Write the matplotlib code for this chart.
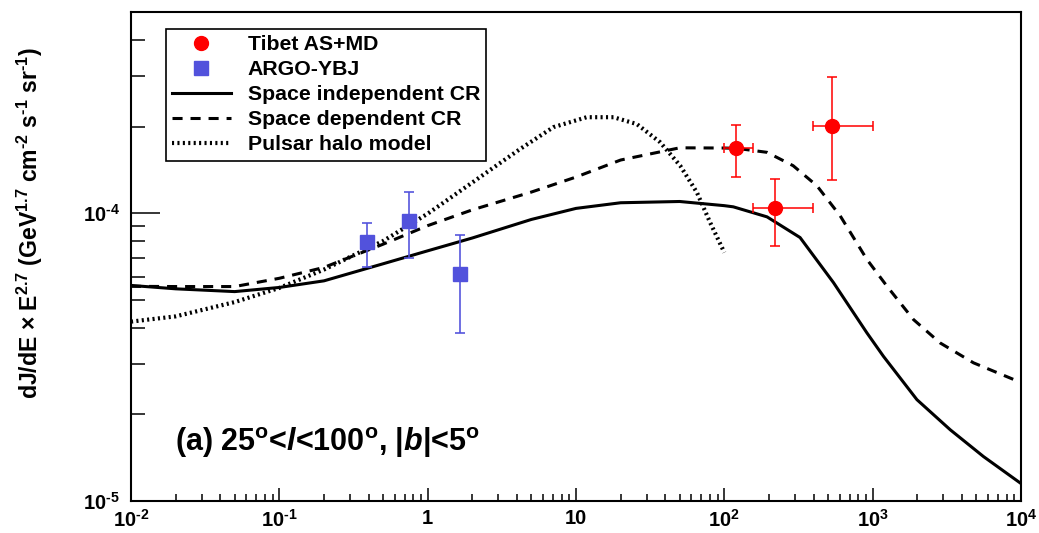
import numpy as np
import matplotlib
matplotlib.use("Agg")
import matplotlib.pyplot as plt
from matplotlib.lines import Line2D
from matplotlib.ticker import FixedLocator, LogLocator, NullFormatter

plt.rcParams['font.family'] = ['Liberation Sans', 'DejaVu Sans']
plt.rcParams['font.weight'] = 'bold'
plt.rcParams['mathtext.fontset'] = 'custom'
plt.rcParams['mathtext.rm'] = 'Liberation Sans:bold'
plt.rcParams['mathtext.bf'] = 'Liberation Sans:bold'
plt.rcParams['mathtext.it'] = 'Liberation Sans:italic:bold'
plt.rcParams['mathtext.default'] = 'rm'

# ---------------- data ----------------
# Space independent CR (solid)
E_si = [0.01, 0.02, 0.05, 0.1, 0.2, 0.5, 1, 2, 5, 10, 20, 50, 100, 115, 194, 324,
        544, 914, 1183, 1987, 3334, 5585, 10000]
F_si = [5.61e-5, 5.46e-5, 5.34e-5, 5.52e-5, 5.82e-5, 6.67e-5, 7.40e-5, 8.20e-5,
        9.51e-5, 1.039e-4, 1.087e-4, 1.098e-4, 1.062e-4, 1.052e-4, 9.71e-5, 8.23e-5,
        5.74e-5, 3.84e-5, 3.18e-5, 2.25e-5, 1.768e-5, 1.427e-5, 1.15e-5]

# Space dependent CR (dashed)
E_sd = [0.01, 0.02, 0.05, 0.1, 0.2, 0.5, 1, 2, 5, 10, 20, 50, 100, 121, 194, 291,
        421, 604, 914, 1247, 1884, 2853, 4786, 10000]
F_sd = [5.57e-5, 5.56e-5, 5.56e-5, 5.94e-5, 6.48e-5, 7.80e-5, 9.05e-5, 1.027e-4,
        1.184e-4, 1.335e-4, 1.530e-4, 1.687e-4, 1.684e-4, 1.680e-4, 1.627e-4, 1.462e-4,
        1.245e-4, 9.79e-5, 6.91e-5, 5.58e-5, 4.27e-5, 3.54e-5, 3.02e-5, 2.58e-5]

# Pulsar halo model (dotted)
E_ph = [0.01, 0.02, 0.05, 0.1, 0.2, 0.5, 1, 2, 2.5, 4.2, 7.04, 11.8, 17.9, 25.7,
        36.9, 50.4, 65.3, 80.2, 100]
F_ph = [4.20e-5, 4.38e-5, 4.91e-5, 5.50e-5, 6.37e-5, 8.00e-5, 9.96e-5, 1.278e-4,
        1.386e-4, 1.671e-4, 1.990e-4, 2.155e-4, 2.155e-4, 2.04e-4, 1.764e-4,
        1.462e-4, 1.181e-4, 9.28e-5, 7.30e-5]

# Tibet AS+MD
E_tibet = [120, 221, 533]
E_tibet_lo = [100, 157, 399]
E_tibet_hi = [157, 399, 1000]
F_tibet = [1.68e-4, 1.04e-4, 2.01e-4]
F_tibet_lo = [1.338e-4, 7.69e-5, 1.306e-4]
F_tibet_hi = [2.02e-4, 1.31e-4, 2.98e-4]

# ARGO-YBJ
E_argo = [0.388, 0.75, 1.65]
F_argo = [7.91e-5, 9.40e-5, 6.14e-5]
F_argo_lo = [6.52e-5, 7.01e-5, 3.84e-5]
F_argo_hi = [9.21e-5, 1.18e-4, 8.43e-5]

xticks = [1e-2, 1e-1, 1, 10, 1e2, 1e3, 1e4]
xticklabels = [r'$10^{\text{-}2}$', r'$10^{\text{-}1}$', '1', '10',
               r'$10^{2}$', r'$10^{3}$', r'$10^{4}$']
yticks = [1e-5, 1e-4]
yticklabels = [r'$10^{\text{-}5}$', r'$10^{\text{-}4}$']

# ---------------- figure ----------------
W, H = 1039, 533
fig = plt.figure(figsize=(W / 100, H / 100), dpi=100)
ax = fig.add_axes([131 / W, (H - 501) / H, (1021 - 131) / W, (501 - 12) / H])
ax.set_xscale('log')
ax.set_yscale('log')
ax.set_xlim(1e-2, 1e4)
ax.set_ylim(1e-5, 5e-4)

lw = 2.2
dash_ls = (0, (3.3, 2.6))
dot_lw = 3.0
dot_ls = (0, (0.5, 0.8))
ax.plot(E_si, F_si, color='black', lw=lw, ls='-', solid_joinstyle='round')
ax.plot(E_sd, F_sd, color='black', lw=lw, ls=dash_ls)
ax.plot(E_ph, F_ph, color='black', lw=dot_lw, ls=dot_ls, dash_capstyle='butt')

red = '#ff0000'
blue = '#5252dc'
F_tibet = np.array(F_tibet)
E_tibet = np.array(E_tibet)
yerr_t = [F_tibet - np.array(F_tibet_lo), np.array(F_tibet_hi) - F_tibet]
xerr_t = [E_tibet - np.array(E_tibet_lo), np.array(E_tibet_hi) - E_tibet]
ax.errorbar(E_tibet, F_tibet, xerr=xerr_t, yerr=yerr_t, fmt='none', ecolor=red,
            elinewidth=1.3, capsize=3.5, capthick=1.3, zorder=4, alpha=0.85)
ax.plot(E_tibet, F_tibet, 'o', color=red, ms=10, mec=red, zorder=5)

F_argo = np.array(F_argo)
yerr_a = [F_argo - np.array(F_argo_lo), np.array(F_argo_hi) - F_argo]
ax.errorbar(E_argo, F_argo, yerr=yerr_a, fmt='none', ecolor=blue,
            elinewidth=1.3, capsize=3.5, capthick=1.3, zorder=4, alpha=0.9)
ax.plot(E_argo, F_argo, 's', color=blue, ms=9.5, mec=blue, zorder=5)

# ticks
ax.xaxis.set_major_locator(FixedLocator(xticks))
ax.set_xticklabels(xticklabels)
ax.xaxis.set_minor_locator(LogLocator(base=10, subs=np.arange(2, 10), numticks=20))
ax.xaxis.set_minor_formatter(NullFormatter())
ax.yaxis.set_major_locator(FixedLocator(yticks))
ax.set_yticklabels(yticklabels)
ax.yaxis.set_minor_locator(LogLocator(base=10, subs=np.arange(2, 10), numticks=20))
ax.yaxis.set_minor_formatter(NullFormatter())

ax.tick_params(axis='both', which='both', direction='in', top=False, right=False,
               width=1.1, labelsize=14.5)
ax.tick_params(axis='x', which='major', length=9.4, pad=6)
ax.tick_params(axis='x', which='minor', length=5)
ax.tick_params(axis='y', which='major', length=21, pad=8)
ax.tick_params(axis='y', which='minor', length=10)
for s in ax.spines.values():
    s.set_linewidth(1.5)

# y label
fig.text(30 / W, (H - 223.5) / H,
         r'dJ/dE $\times$ E$^{2.7}$ (GeV$^{1.7}$ cm$^{\text{-}2}$ s$^{\text{-}1}$ sr$^{\text{-}1}$)',
         rotation=90, ha='center', va='center', fontsize=16.6, fontweight='bold')

# annotation
ax.text((175 - 131) / 890, (501 - 451) / 489,
        r'(a) 25$^{\rm o}$<$\it{l}$<100$^{\rm o}$, |$\it{b}$|<5$^{\rm o}$',
        transform=ax.transAxes, ha='left', va='baseline', fontsize=22)

# legend
handles = [
    Line2D([], [], ls='none', marker='o', color=red, ms=10),
    Line2D([], [], ls='none', marker='s', color=blue, ms=9.5),
    Line2D([], [], color='black', lw=lw, ls='-'),
    Line2D([], [], color='black', lw=lw, ls=dash_ls),
    Line2D([], [], color='black', lw=dot_lw, ls=dot_ls, dash_capstyle='butt'),
]
labels = ['Tibet AS+MD', 'ARGO-YBJ', 'Space independent CR', 'Space dependent CR',
          'Pulsar halo model']
leg = ax.legend(handles, labels, loc='upper left',
                bbox_to_anchor=((165.7 - 131) / 890, (501 - 29) / 489),
                frameon=True, fancybox=False, edgecolor='black', framealpha=1,
                fontsize=15.3, handlelength=2.75, handletextpad=0.8, borderpad=0.3,
                labelspacing=0.28, borderaxespad=0)
leg.get_frame().set_linewidth(1.2)

fig.savefig('out.png', dpi=100)
